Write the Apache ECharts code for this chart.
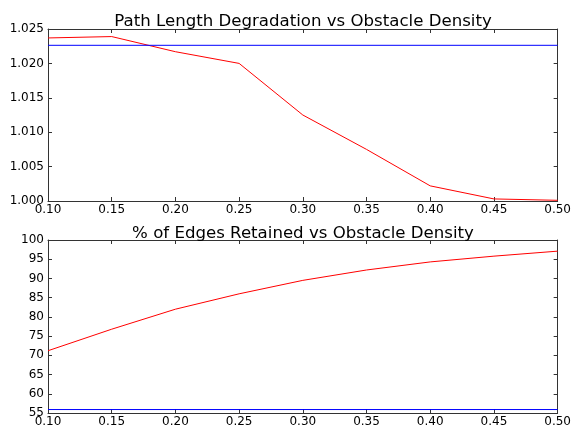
<!DOCTYPE html>
<html>
<head>
<meta charset="utf-8">
<script src="https://cdn.jsdelivr.net/npm/echarts@6/dist/echarts.min.js"></script>
<style>
  html, body { margin: 0; padding: 0; background: #fff; }
  #chart { width: 574px; height: 428px; }
</style>
</head>
<body>
<div id="chart"></div>
<script>
// obstacle density (shared x)
const density = [0.10, 0.15, 0.20, 0.25, 0.30, 0.35, 0.40, 0.45, 0.50];
// path length degradation
const pathLength = [1.0237, 1.0239, 1.0217, 1.0200, 1.0125, 1.0075, 1.0022, 1.0003, 1.0001];
const pathBaseline = 1.02263;
// % edges retained
const edgesRetained = [71.2, 76.8, 82.0, 86.0, 89.5, 92.2, 94.3, 95.8, 97.1];
const edgesBaseline = 55.9;

const FONT = 'DejaVu Sans';
const AXIS = '#333';
const pairs = (ys) => density.map((x, i) => [x, ys[i]]);
// flat reference line across the full x range
const flat = (v) => [[density[0], v], [density[density.length - 1], v]];

const chart = echarts.init(document.getElementById('chart'));

// matplotlib classic look: ticks inside on all four sides
function xAxes(gridIndex) {
  const base = {
    type: 'value', gridIndex, min: 0.1, max: 0.5, interval: 0.05,
    splitLine: { show: false },
    axisLine: { onZero: false, lineStyle: { color: AXIS, width: 1 } },
    axisTick: { inside: true, length: 4, lineStyle: { color: AXIS } }
  };
  return [
    Object.assign({}, base, {
      position: 'bottom',
      axisLabel: { color: '#000', fontFamily: FONT, fontSize: 12, margin: 3, formatter: v => v.toFixed(2) }
    }),
    Object.assign({}, base, { position: 'top', axisLabel: { show: false } })
  ];
}

function yAxes(gridIndex, min, max, interval, fmt) {
  const base = {
    type: 'value', gridIndex, min, max, interval,
    splitLine: { show: false },
    axisLine: { onZero: false, lineStyle: { color: AXIS, width: 1 } },
    axisTick: { inside: true, length: 4, lineStyle: { color: AXIS } }
  };
  return [
    Object.assign({}, base, {
      position: 'left',
      axisLabel: { color: '#000', fontFamily: FONT, fontSize: 12, margin: 4, formatter: fmt }
    }),
    Object.assign({}, base, { position: 'right', axisLabel: { show: false } })
  ];
}

function line(xi, yi, data, color) {
  return {
    type: 'line', xAxisIndex: xi, yAxisIndex: yi, data,
    symbol: 'none', silent: true,
    lineStyle: { color, width: 1 }, itemStyle: { color }
  };
}

chart.setOption({
  animation: false,
  backgroundColor: '#fff',
  title: [
    { text: 'Path Length Degradation vs Obstacle Density', left: 298, top: 8, textAlign: 'center',
      textStyle: { fontFamily: FONT, fontSize: 16.6, fontWeight: 'normal', color: '#000' } },
    { text: '% of Edges Retained vs Obstacle Density', left: 298, top: 220, textAlign: 'center',
      textStyle: { fontFamily: FONT, fontSize: 16.6, fontWeight: 'normal', color: '#000' } }
  ],
  grid: [
    { left: 48, top: 29, width: 510, height: 172 },
    { left: 48, top: 240, width: 510, height: 173 }
  ],
  xAxis: [...xAxes(0), ...xAxes(1)],
  yAxis: [
    ...yAxes(0, 1.0, 1.025, 0.005, v => v.toFixed(3)),
    ...yAxes(1, 55, 100, 5, v => String(v))
  ],
  series: [
    line(0, 0, pairs(pathLength), '#ff0000'),
    line(0, 0, flat(pathBaseline), '#0000ff'),
    line(2, 2, pairs(edgesRetained), '#ff0000'),
    line(2, 2, flat(edgesBaseline), '#0000ff')
  ]
});
</script>
</body>
</html>
